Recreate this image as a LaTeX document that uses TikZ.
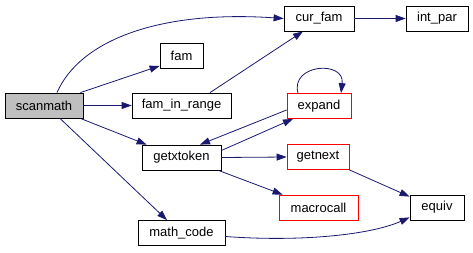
\documentclass[tikz,border=0pt]{standalone}
\usepackage{fontspec}
\setmainfont{Liberation Sans}
\usetikzlibrary{arrows.meta}
\definecolor{edgeblue}{HTML}{191970}
\definecolor{hlgray}{HTML}{BFBFBF}
\tikzset{
  fn/.style={draw=black, fill=white, line width=0.8pt, minimum height=25pt,
    inner sep=0pt, font=\fontsize{13}{15}\selectfont},
  hl/.style={fn, fill=hlgray},
  ext/.style={fn, draw=red},
  call/.style={draw=edgeblue, line width=0.8pt,
    -{Triangle[length=10pt,width=7pt]}},
}
\begin{document}
\begin{tikzpicture}[x=1pt,y=-1pt]
\useasboundingbox (0,0) rectangle (473,252);
% functions
\node[hl,  minimum width=78pt] (scanmath)   at (44,105.5)   {scanmath};
\node[fn,  minimum width=43pt] (fam)        at (181.5,55.5) {fam};
\node[fn,  minimum width=99pt] (faminrange) at (181.5,105.5) {fam\_in\_range};
\node[fn,  minimum width=79pt] (getxtoken)  at (181.5,157.5) {getxtoken};
\node[fn,  minimum width=87pt] (mathcode)   at (181.5,233)  {math\_code};
\node[fn,  minimum width=70pt] (curfam)     at (319,18.5)   {cur\_fam};
\node[fn,  minimum width=62pt] (intpar)     at (437,18.5)   {int\_par};
\node[ext, minimum width=64pt] (expand)     at (319,106)    {expand};
\node[ext, minimum width=62pt] (getnext)    at (318,157)    {getnext};
\node[ext, minimum width=79pt] (macrocall)  at (318.5,207.5) {macrocall};
\node[fn,  minimum width=54pt] (equiv)      at (437,207.5)  {equiv};
% calls
\draw[call] ([xshift=13pt]scanmath.north) .. controls (80,40) and (160,10) .. (curfam.west);
\draw[call] ([xshift=-3pt]scanmath.north east) -- ([yshift=2.5pt]fam.south west);
\draw[call] (scanmath.east) -- (faminrange.west);
\draw[call] ([xshift=-3pt]scanmath.south east) -- ([xshift=5pt]getxtoken.north west);
\draw[call] ([xshift=16pt]scanmath.south) -- ([xshift=-14.5pt]mathcode.north);
\draw[call] ([xshift=28.5pt]faminrange.north) -- ([xshift=-16pt]curfam.south);
\draw[call] (curfam.east) -- (intpar.west);
\draw[call] ([xshift=-21pt]expand.north) .. controls (290,64) and (345,60) .. ([xshift=22pt]expand.north);
\draw[call] ([yshift=-4pt]expand.west) -- ([xshift=18.5pt]getxtoken.north);
\draw[call] ([yshift=7pt]getxtoken.east) -- ([xshift=-26pt]expand.south);
\draw[call] (getxtoken.east) -- (getnext.west);
\draw[call] ([xshift=-3pt]getxtoken.south east) -- ([xshift=4pt]macrocall.north west);
\draw[call] (getnext.south east) -- ([yshift=-2pt]equiv.north west);
\draw[call] ([yshift=-3.5pt]mathcode.east) .. controls (300,242) and (370,235) .. ([yshift=3pt]equiv.south west);
\end{tikzpicture}
\end{document}
